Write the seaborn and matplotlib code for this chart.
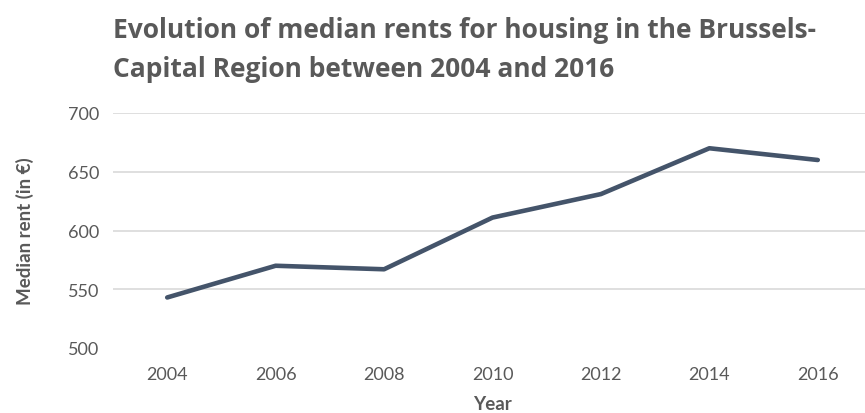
import pandas as pd
import matplotlib
matplotlib.use("Agg")
import matplotlib.pyplot as plt
import seaborn as sns

# datos
years = [2004, 2006, 2008, 2010, 2012, 2014, 2016]
median_rent = [543, 570, 567, 611, 631, 670, 660]
y_ticks = [500, 550, 600, 650, 700]

TITLE = "Evolution of median rents for housing in the Brussels-\nCapital Region between 2004 and 2016"
GRIS = "#595959"
LINEA = "#44546A"

sns.set_style("white")
plt.rcParams['font.family'] = ['Lato', 'DejaVu Sans']

df = pd.DataFrame({"Year": years, "Median rent": median_rent})

fig = plt.figure(figsize=(8.65, 4.14), dpi=100)
# el eje llega un poco mas alla del borde derecho, como en el original
ax = fig.add_axes([113 / 865, 1 - 349 / 414, 759 / 865, 235 / 414])

sns.lineplot(data=df, x="Year", y="Median rent", color=LINEA, linewidth=3.3, ax=ax)

ax.set_xlim(years[0] - 1, years[-1] + 1)
ax.set_ylim(y_ticks[0], y_ticks[-1])
ax.set_xticks(years)
ax.set_yticks(y_ticks)
ax.yaxis.grid(True, color="#D9D9D9", linewidth=1.2)
ax.get_ygridlines()[0].set_visible(False)
ax.set_axisbelow(True)
for s in ax.spines.values():
    s.set_visible(False)
ax.tick_params(axis="both", length=0, labelsize=13, labelcolor=GRIS)
ax.tick_params(axis="x", pad=13)
ax.tick_params(axis="y", pad=10)

ax.set_xlabel("Year", fontsize=13.5, fontweight="bold", color=GRIS, labelpad=9)
ax.set_ylabel("Median rent (in €)", fontsize=13.5, fontweight="bold", color=GRIS, labelpad=24)

fig.text(113 / 865, 1 - 17 / 414, TITLE, fontsize=19, fontweight="bold", color=GRIS,
         ha="left", va="top", linespacing=1.55, family=['Open Sans', 'DejaVu Sans'])

fig.savefig("out.png", dpi=100)
